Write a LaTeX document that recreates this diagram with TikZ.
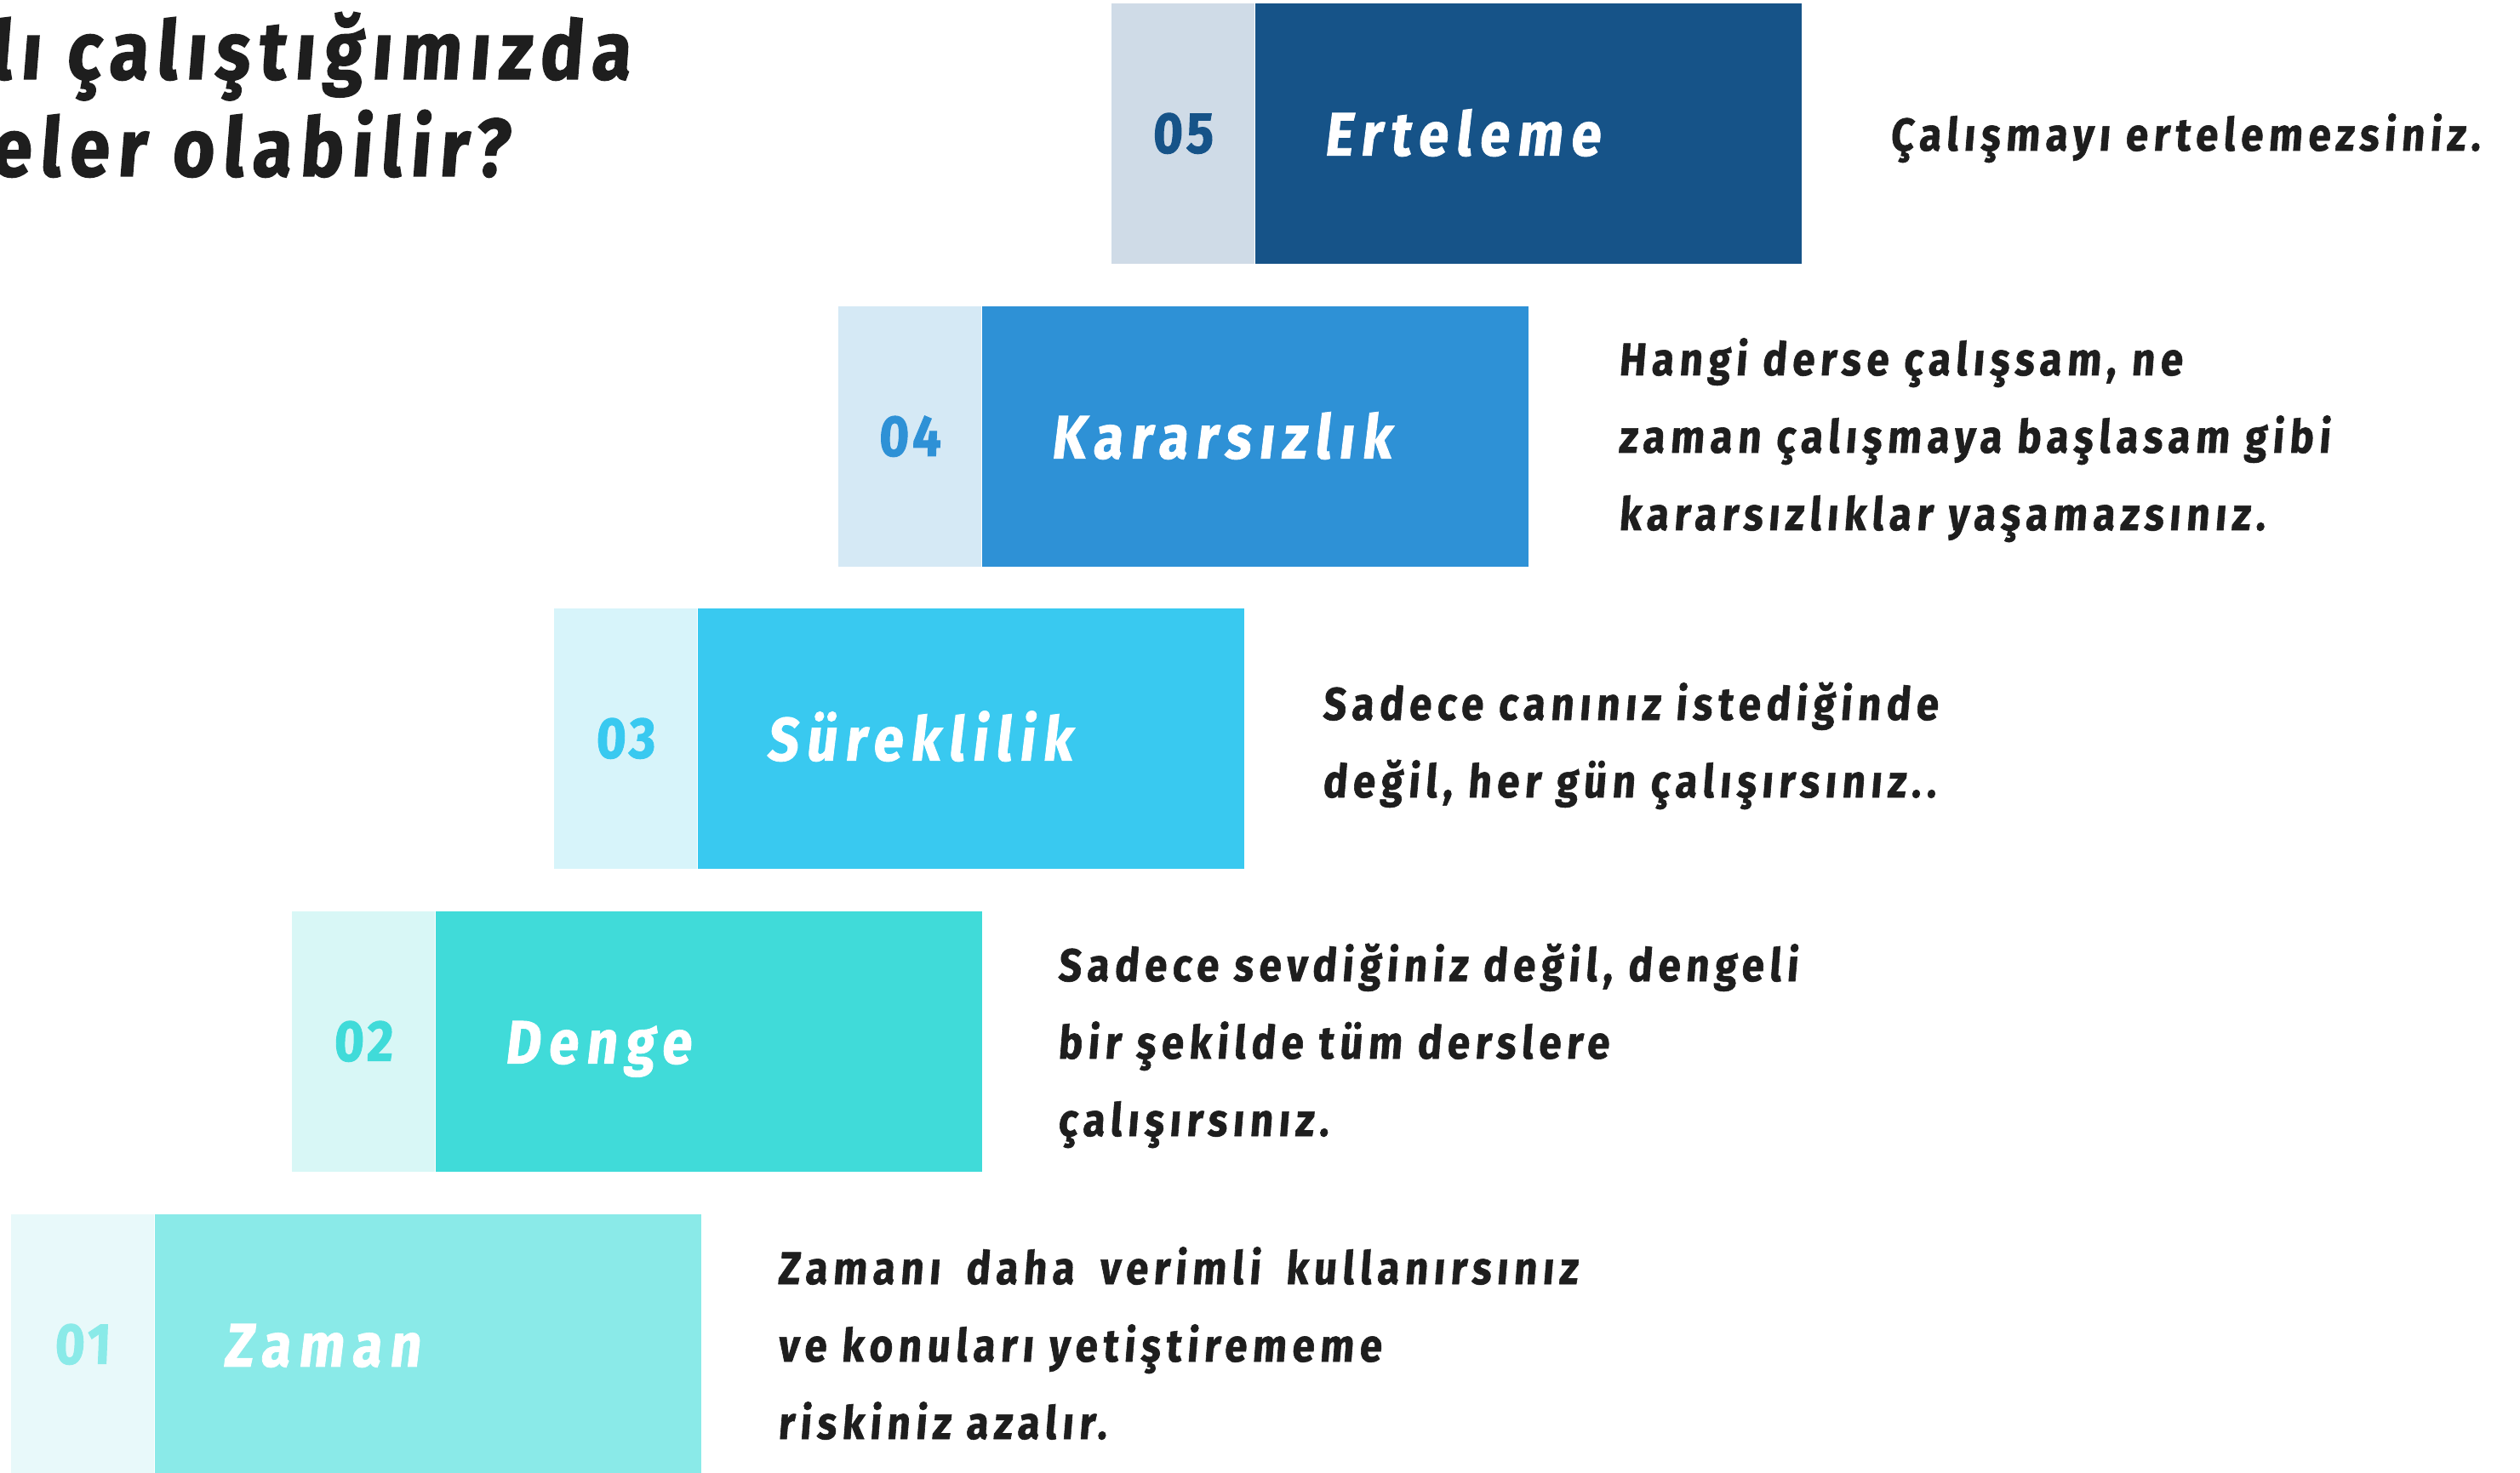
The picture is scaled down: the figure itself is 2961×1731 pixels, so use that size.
\documentclass[tikz,border=0pt]{standalone}
\usepackage{fontspec}
\setmainfont{Fira Sans}
\newfontfamily\ttlfont{Fira Sans}[BoldFeatures={FakeStretch=0.88,FakeSlant=0.08,LetterSpace=10.5,FakeBold=1.5}]
\newfontfamily\boxfont{Fira Sans}[BoldFeatures={FakeStretch=0.88,FakeSlant=0.12,LetterSpace=13,FakeBold=1.2}]
\newfontfamily\numfont{Fira Sans}[BoldFeatures={FakeStretch=0.88,FakeSlant=0.04,LetterSpace=6,FakeBold=1.4}]
\newfontfamily\descfont{Fira Sans}[BoldFeatures={FakeStretch=0.88,FakeSlant=0.08,LetterSpace=12,FakeBold=1.1}]
\definecolor{cEd}{HTML}{165388}\definecolor{cEl}{HTML}{CFDBE7}
\definecolor{cDd}{HTML}{2E91D6}\definecolor{cDl}{HTML}{D5E9F5}
\definecolor{cCd}{HTML}{39C9F0}\definecolor{cCl}{HTML}{D7F4FA}
\definecolor{cBd}{HTML}{40DBD9}\definecolor{cBl}{HTML}{D8F7F6}
\definecolor{cAd}{HTML}{8AEAE8}\definecolor{cAl}{HTML}{E8F9FA}
\definecolor{ink}{HTML}{1E1E1E}
\tikzset{
  lightbox/.style={fill=#1, draw=none, inner sep=0pt, anchor=north west, minimum width=42pt, minimum height=76.5pt},
  darkbox/.style={fill=#1, draw=none, inner sep=0pt, anchor=north west, minimum width=160.5pt, minimum height=76.5pt},
  numtext/.style={text=#1, inner sep=0pt, font=\numfont\bfseries\fontsize{17}{17}\selectfont},
  headtext/.style={text=white, inner sep=0pt, anchor=base west, font=\boxfont\bfseries\fontsize{18}{18}\selectfont},
  desctext/.style={text=ink, inner sep=0pt, anchor=base west, align=left, font=\descfont\bfseries\fontsize{13.5}{22.75}\selectfont},
  titletext/.style={text=ink, inner sep=0pt, anchor=base east, font=\ttlfont\bfseries\fontsize{24}{28.5}\selectfont}
}
\begin{document}
\begin{tikzpicture}[x=0.25pt,y=-0.25pt]
\useasboundingbox[fill=white] (0,0) rectangle (2961,1731);
% title (cut at the left edge)
\node[titletext] (t1) at (741,93) {lı çalıştığımızda};
\node[titletext] (t2) at (598,207) {eler olabilir?};
% box 05
\node[lightbox=cEl] (l5) at (1305,3) {};
\node[darkbox=cEd] (d5) at (l5.north east) {};
\node[numtext=cEd] (n5) at (l5.center) {05};
\node[headtext] (h5) at ([xshift=20pt,yshift=-6.5pt]d5.west) {Erteleme};
\node[desctext] (x5) at (2220,177) {Çalışmayı ertelemezsiniz.};
% box 04
\node[lightbox=cDl] (l4) at (984,359) {};
\node[darkbox=cDd] (d4) at (l4.north east) {};
\node[numtext=cDd] (n4) at (l4.center) {04};
\node[headtext] (h4) at ([xshift=20pt,yshift=-6.5pt]d4.west) {Kararsızlık};
\node[desctext] (x4) at (1901,623) {Hangi derse çalışsam, ne\\zaman çalışmaya başlasam gibi\\kararsızlıklar yaşamazsınız.};
% box 03
\node[lightbox=cCl] (l3) at (650,714) {};
\node[darkbox=cCd] (d3) at (l3.north east) {};
\node[numtext=cCd] (n3) at (l3.center) {03};
\node[headtext] (h3) at ([xshift=20pt,yshift=-6.5pt]d3.west) {Süreklilik};
\node[desctext] (x3) at (1553,937) {Sadece canınız istediğinde\\değil, her gün çalışırsınız..};
% box 02
\node[lightbox=cBl] (l2) at (342,1070) {};
\node[darkbox=cBd] (d2) at (l2.north east) {};
\node[numtext=cBd] (n2) at (l2.center) {02};
\node[headtext] (h2) at ([xshift=20pt,yshift=-6.5pt]d2.west) {Denge};
\node[desctext] (x2) at (1242,1335) {Sadece sevdiğiniz değil, dengeli\\bir şekilde tüm derslere\\çalışırsınız.};
% box 01
\node[lightbox=cAl] (l1) at (12,1426) {};
\node[darkbox=cAd] (d1) at (l1.north east) {};
\node[numtext=cAd] (n1) at (l1.center) {01};
\node[headtext] (h1) at ([xshift=20pt,yshift=-6.5pt]d1.west) {Zaman};
\node[desctext] (x1) at (913,1691) {Zamanı\hspace{3pt} daha\hspace{3pt} verimli\hspace{3pt} kullanırsınız\\ve konuları yetiştirememe\\riskiniz azalır.};
\end{tikzpicture}
\end{document}
